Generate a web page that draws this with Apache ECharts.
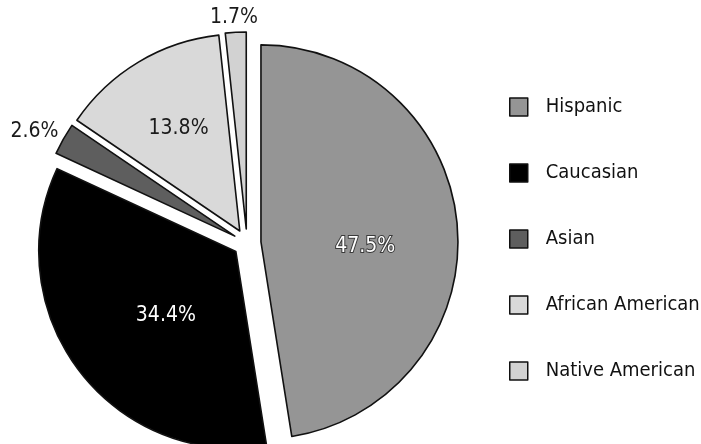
<!DOCTYPE html>
<html>
<head>
<meta charset="utf-8">
<script src="https://cdn.jsdelivr.net/npm/echarts@6/dist/echarts.min.js"></script>
<style>
  html, body { margin: 0; padding: 0; background: #fff; }
  #chart { width: 701px; height: 444px; }
</style>
</head>
<body>
<div id="chart"></div>
<script>
// Ethnic composition, percent of total
const groups = ['Hispanic', 'Caucasian', 'Asian', 'African American', 'Native American'];
const shares = [47.5, 34.4, 2.6, 13.8, 1.7];

const fills = ['#959595', '#000000', '#5e5e5e', '#d9d9d9', '#d2d2d2'];
const FONT = "'DejaVu Sans Condensed', 'Liberation Sans Narrow', sans-serif";

const pct = p => p.value.toFixed(1) + '%';

// rich-text label: blank line above or below nudges the value vertically
const nudged = (gapAbove, gapBelow, style) => ({
  position: 'inside',
  formatter: p => (gapAbove ? '{g1|}\n' : '') + '{t|' + pct(p) + '}' + (gapBelow ? '\n{g2|}' : ''),
  rich: {
    t: Object.assign({ fontFamily: FONT, fontSize: 21, lineHeight: 24 }, style),
    g1: { lineHeight: gapAbove || 1 },
    g2: { lineHeight: gapBelow || 1 }
  }
});

// per-slice label settings
const labelStyles = [
  Object.assign(nudged(26, 0, { color: '#fff', textBorderColor: '#3a3a3a', textBorderWidth: 2 }), { padding: [0, 0, 0, 6] }),
  Object.assign(nudged(5, 0, { color: '#fff' }), { padding: [0, 0, 0, 22] }),
  { position: 'outside', color: '#1a1a1a', distanceToLabelLine: 0 },
  Object.assign(nudged(0, 30, { color: '#1a1a1a' }), { padding: [0, 18, 0, 0] }),
  { position: 'outside', color: '#1a1a1a', distanceToLabelLine: 0 }
];
const labelLines = [
  {}, {},
  { show: false, length: 16, length2: -9 },
  {},
  { show: false, length: 15, length2: -23 }
];

const chart = echarts.init(document.getElementById('chart'), null, { renderer: 'canvas' });

chart.setOption({
  animation: false,
  backgroundColor: '#ffffff',
  legend: {
    orient: 'vertical',
    left: 509,
    top: 95,
    padding: 0,
    itemWidth: 18,
    itemHeight: 18,
    itemGap: 42,
    selectedMode: false,
    icon: 'rect',
    itemStyle: { borderColor: '#111', borderWidth: 1.5 },
    textStyle: {
      fontFamily: FONT,
      fontSize: 20,
      lineHeight: 24,
      color: '#111',
      padding: [0, 0, 0, 13]
    },
    data: groups
  },
  series: [{
    type: 'pie',
    center: [247, 243],
    radius: 197,
    startAngle: 90,
    clockwise: true,
    avoidLabelOverlap: false,
    selectedMode: 'multiple',
    selectedOffset: 14,
    emphasis: { disabled: true },
    itemStyle: { borderColor: '#111', borderWidth: 1.6 },
    label: {
      show: true,
      position: 'inside',
      fontFamily: FONT,
      fontSize: 21,
      formatter: pct
    },
    labelLine: { show: false },
    data: groups.map((g, i) => ({
      name: g,
      value: shares[i],
      selected: true,
      itemStyle: { color: fills[i] },
      label: labelStyles[i],
      labelLine: labelLines[i]
    }))
  }]
});
</script>
</body>
</html>
